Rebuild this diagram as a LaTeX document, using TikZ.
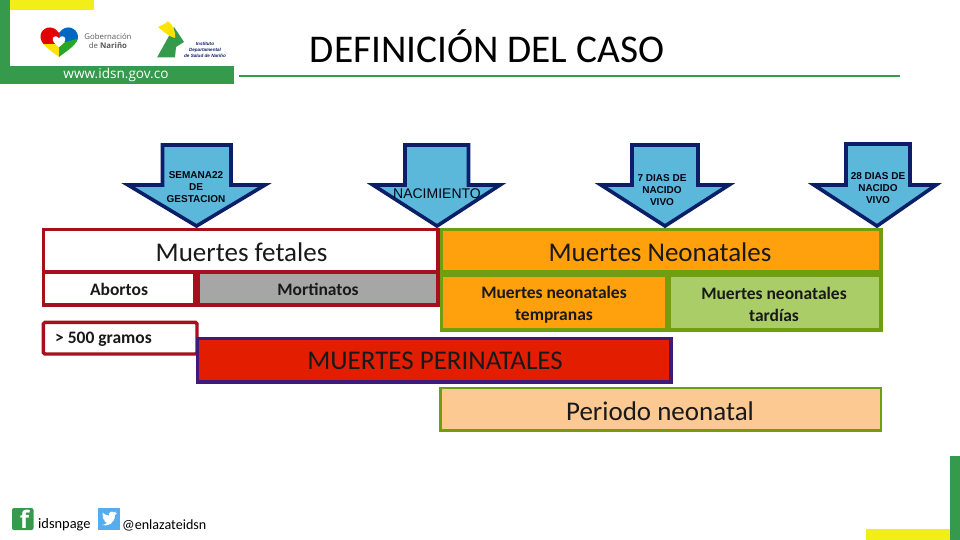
\documentclass[tikz,border=0pt]{standalone}
\usepackage{fontspec}
\setmainfont{Carlito}
\newfontfamily\arialf{Liberation Sans}
\newfontfamily\logof{Open Sans}
\definecolor{brandgreen}{HTML}{359A4B}
\definecolor{brandyellow}{HTML}{F2EE17}
\definecolor{arrowfill}{HTML}{5BB8DA}
\definecolor{arrowline}{HTML}{0B1E68}
\definecolor{fetalline}{HTML}{A80F1C}
\definecolor{neoline}{HTML}{6F9E10}
\definecolor{neoorange}{HTML}{FFA00C}
\definecolor{neolight}{HTML}{AACD68}
\definecolor{perifill}{HTML}{E31E00}
\definecolor{periline}{HTML}{3F1A78}
\definecolor{peach}{HTML}{FCC993}
\definecolor{greybox}{HTML}{A6A6A6}
\definecolor{twblue}{HTML}{55ACEE}
\tikzset{
  downarrow/.style={draw=arrowline,fill=arrowfill,line width=3.6pt,miter limit=10,line join=miter},
  arrowtext/.style={font=\arialf\bfseries\fontsize{10}{11.8}\selectfont,align=center,text=black!85!arrowline,inner sep=0pt},
  fetalbox/.style={draw=fetalline,line width=3.4pt,fill=white,inner sep=0pt,anchor=north west},
  neobox/.style={draw=neoline,line width=3.4pt,fill=neoorange,inner sep=0pt,anchor=north west},
  bigtext/.style={font=\fontsize{27}{30}\selectfont,text=black!90},
  smalltext/.style={font=\bfseries\fontsize{17.5}{22.5}\selectfont,align=center,text=black!90},
  brandbar/.style={fill=brandgreen,draw=none},
  brandmark/.style={fill=brandyellow,draw=none},
}
\newcommand{\darrow}[7]{% shaftL shaftR top wingL wingR tipx wingy
  \draw[downarrow] (#1,#3) -- (#2,#3) -- (#2,#7) -- (#5,#7) -- (#6,226) -- (#4,#7) -- (#1,#7) -- cycle;
}
\begin{document}
\begin{tikzpicture}[x=1pt,y=-1pt]
\useasboundingbox (0,0) rectangle (960,540);
\fill[white] (0,0) rectangle (960,540);

% frame
\fill[brandmark] (10,0) rectangle (94,10);
\fill[brandbar] (0,0) rectangle (10,84);
\fill[brandbar] (0,66) rectangle (234,84);
\node[font=\logof\fontsize{13.6}{16}\selectfont,text=white,inner sep=0pt] (web) at (116,75) {www.idsn.gov.co};
\fill[brandbar] (239,75) rectangle (900,77.5);
\fill[brandbar] (950,456) rectangle (960,540);
\fill[brandmark] (866,529) rectangle (950,540);

% heart logo
\begin{scope}
\clip (59,57) .. controls (50,50) and (40,44) .. (40.5,36) .. controls (41,28) and (52,23) .. (59,33) .. controls (66,23) and (77,28) .. (78,36) .. controls (78.5,44) and (68,50) .. (59,57) -- cycle;
\fill[red!90!black] (38,24) rectangle (59,44);
\fill[blue!45!cyan!75!black] (59,24) rectangle (80,42);
\fill[yellow!85!orange] (38,44) -- (59,44) -- (59,60) -- (38,60) -- cycle;
\fill[green!60!black!85] (59,60) -- (59,44) -- (80,38) -- (80,60) -- cycle;
\end{scope}
\fill[white] (59,47) .. controls (54,43.5) and (52,41) .. (53,38) .. controls (54,35.5) and (58,36) .. (59,38.5) .. controls (60,36) and (64,35.5) .. (65,38) .. controls (66,41) and (64,43.5) .. (59,47) -- cycle;
\node[font=\logof\fontsize{7.8}{10}\selectfont,text=black!65,align=center,inner sep=0pt] (gob) at (108,41) {Gobernación\\[-0.5pt]de \textbf{Nariño}};

% institute logo
\fill[brandgreen] (157,57.5) -- (174,27) -- (184,42) -- (176,47) -- (175,57.5) -- cycle;
\fill[yellow!85!orange] (158,27) .. controls (164,32) and (170,37) .. (175,38) .. controls (176,32) and (173,25) .. (168,21) .. controls (166,24) and (162,25) .. (158,27) -- cycle;
\node[font=\arialf\bfseries\itshape\fontsize{4.6}{6}\selectfont,text=arrowline,align=center,inner sep=0pt] (inst) at (205,49.5) {Instituto\\Departamental\\de Salud de Nariño};

% title
\node[font=\fontsize{39.3}{44}\selectfont,text=black,inner sep=0pt] (title) at (487,46.5) {DEFINICIÓN DEL CASO};

% arrows
\darrow{162.5}{231}{145}{128}{265}{196.5}{185}
\darrow{405}{468.5}{145}{373}{500}{437}{185}
\darrow{632}{698}{145}{601}{729}{665}{185}
\darrow{846}{910}{144}{814}{936}{877}{185}
\node[arrowtext] (a1) at (196,187) {SEMANA22\\DE\\GESTACION};
\node[arrowtext,font=\arialf\fontsize{14}{16}\selectfont] (a2) at (437,194) {NACIMIENTO};
\node[arrowtext] (a3) at (662,190) {7 DIAS DE\\NACIDO\\VIVO};
\node[arrowtext] (a4) at (878,188) {28 DIAS DE\\NACIDO\\VIVO};

% neonatal boxes
\node[neobox,minimum width=439.6pt,minimum height=42.6pt] (neo) at (439.7,227.7) {};
\node[bigtext] at (660,252) {Muertes Neonatales};
\node[neobox,minimum width=225.6pt,minimum height=54.6pt] (neoa) at (439.7,273.7) {};
\node[smalltext] at (554,304.5) {Muertes neonatales\\tempranas};
\node[neobox,fill=neolight,minimum width=211.8pt,minimum height=54.6pt] (neob) at (667.5,273.7) {};
\node[smalltext] at (774,304.5) {Muertes neonatales\\tardías};

% fetal boxes
\node[fetalbox,minimum width=151.6pt,minimum height=32.6pt] (abo) at (41.7,270.7) {};
\node[smalltext] at (119,289.5) {Abortos};
\node[fetalbox,fill=greybox,minimum width=239.6pt,minimum height=32.6pt] (mor) at (196.7,270.7) {};
\node[smalltext] at (318,289.5) {Mortinatos};
\node[fetalbox,minimum width=394.6pt,minimum height=42.6pt] (fet) at (41.7,227.7) {};
\node[bigtext] at (241.5,252) {Muertes fetales};
\node[fetalbox,rounded corners=1.5pt,minimum width=153.6pt,minimum height=31.6pt] (gr) at (41.7,320.7) {};
\node[smalltext,anchor=west,inner sep=0pt] at (55,339.5) {> 500 gramos};

% perinatal
\node[draw=periline,line width=3.6pt,fill=perifill,inner sep=0pt,anchor=north west,minimum width=473.4pt,minimum height=43.4pt] (peri) at (195.8,336.8) {};
\node[bigtext] at (435,361) {MUERTES PERINATALES};

% periodo
\node[neobox,fill=peach,line width=2.6pt,minimum width=440.4pt,minimum height=42.4pt] (per) at (439.3,386.8) {};
\node[bigtext] at (660,411.5) {Periodo neonatal};

% footer
\fill[brandgreen,rounded corners=2pt] (12,508) rectangle (33.5,530);
\node[font=\logof\bfseries\fontsize{24}{24}\selectfont,text=white,inner sep=0pt] (fb) at (24.5,519) {f};
\node[font=\fontsize{14.4}{18}\selectfont,text=black,inner sep=0pt,anchor=west] (fbt) at (38,525) {idsnpage};
\fill[twblue] (98,508) rectangle (120,530);
\fill[white] (102,525) .. controls (108,527) and (115,523) .. (115,515) -- (117,513) -- (115,513.5) -- (116,511.5) -- (114,512.5) .. controls (112,510.5) and (108,512) .. (109,515.5) .. controls (106,515.5) and (104,514) .. (102.5,512.5) .. controls (102,514.5) and (102.5,516) .. (104,517) -- (102.5,516.5) .. controls (102.5,518.5) and (104,520) .. (105.5,520.5) -- (104,520.5) .. controls (104.5,522) and (106,522.5) .. (107,522.5) .. controls (106,524) and (104,525) .. (102,525) -- cycle;
\node[font=\fontsize{14.1}{18}\selectfont,text=black,inner sep=0pt,anchor=west] (twt) at (122,525) {@enlazateidsn};
\end{tikzpicture}
\end{document}
